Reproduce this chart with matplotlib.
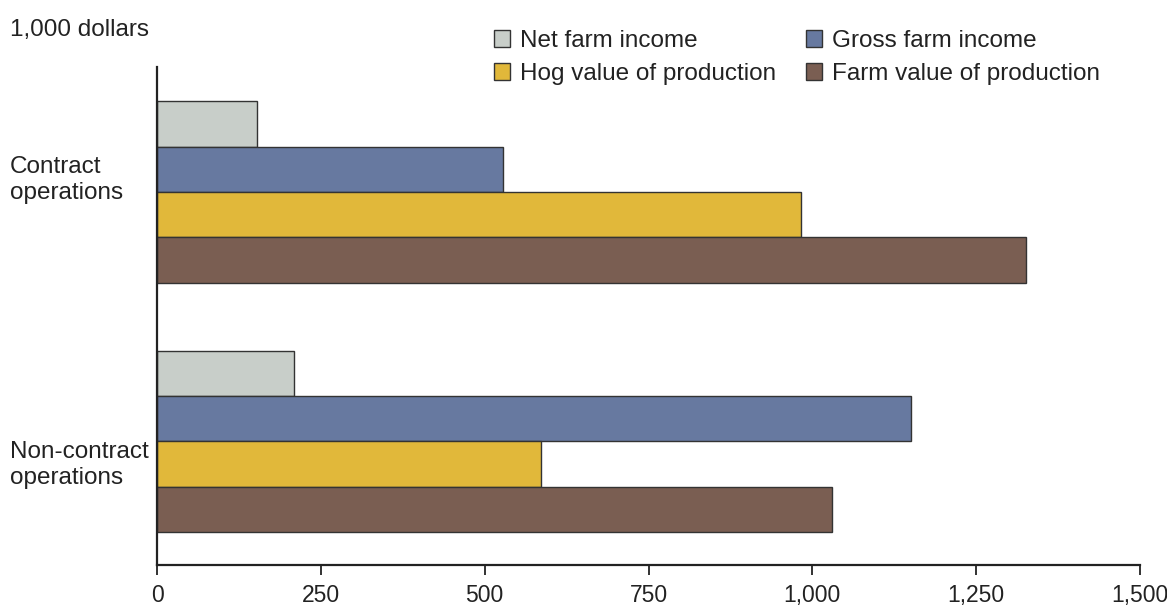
import matplotlib.pyplot as plt
import numpy as np

plt.rcParams['font.family'] = ['Liberation Sans', 'DejaVu Sans']

groups = ['Contract\noperations', 'Non-contract\noperations']
series = ['Net farm income', 'Gross farm income',
          'Hog value of production', 'Farm value of production']
colors = ['#c8cec9', '#6779a0', '#e1b83a', '#7a5e52']
values = {
    'Net farm income': [153, 209],
    'Gross farm income': [528, 1151],
    'Hog value of production': [983, 586],
    'Farm value of production': [1326, 1030],
}
xticks = [0, 250, 500, 750, 1000, 1250, 1500]
xticklabels = ['0', '250', '500', '750', '1,000', '1,250', '1,500']

fs = 17.5
fig = plt.figure(figsize=(11.67, 6.1), dpi=100)
ax = fig.add_axes([157 / 1167, 1 - 565 / 610, (1140 - 157) / 1167, (565 - 67) / 610])

y = np.arange(len(groups))
h = 0.182
bars = []
for i, s in enumerate(series):
    b = ax.barh(y + (i - 1.5) * h, values[s], height=h, color=colors[i],
                edgecolor='#333333', linewidth=1, label=s)
    bars.append(b)

ax.set_xlim(0, 1500)
ax.set_ylim(1.495, -0.501)
ax.set_xticks(xticks)
ax.set_xticklabels(xticklabels, fontsize=16.5)
ax.set_yticks([])
ax.tick_params(axis='x', direction='out', length=7, width=1.3, pad=7, colors='#222222')
for side in ['top', 'right']:
    ax.spines[side].set_visible(False)
for side in ['left', 'bottom']:
    ax.spines[side].set_linewidth(1.6)
    ax.spines[side].set_color('#222222')

# group labels on the left
label_y = [180 / 610, 465 / 610]
for g, ly in zip(groups, label_y):
    fig.text(10 / 1167, 1 - ly, g, fontsize=fs, ha='left', va='center',
             color='#222222', linespacing=1.25)

fig.text(10 / 1167, 1 - 30 / 610, '1,000 dollars', fontsize=fs, ha='left',
         va='center', color='#222222')

order = [0, 2, 1, 3]
leg = fig.legend([bars[i] for i in order], [series[i] for i in order],
                 ncol=2, loc='upper left', bbox_to_anchor=(494 / 1167, 1 - 30 / 610),
                 frameon=False, fontsize=fs, handlelength=0.66, handleheight=0.66,
                 handletextpad=0.4, columnspacing=1.25, labelspacing=0.45,
                 borderpad=0, borderaxespad=0)
for t in leg.get_texts():
    t.set_color('#222222')

fig.savefig('out.png', dpi=100)
